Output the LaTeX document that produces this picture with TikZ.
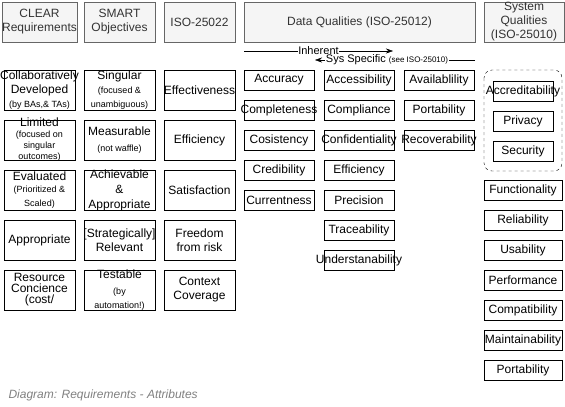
\documentclass[tikz,border=0pt]{standalone}
\usepackage{fontspec}
\setmainfont{Liberation Sans}
\usetikzlibrary{arrows.meta}
\definecolor{hdrline}{HTML}{666666}
\definecolor{hdrfill}{HTML}{F5F5F5}
\definecolor{hdrtext}{HTML}{333333}
\definecolor{captext}{HTML}{808080}
\newcommand{\sm}[1]{{\fontsize{9}{11}\selectfont #1}}

\begin{document}
\begin{tikzpicture}
[x=1pt,y=-1pt,
every node/.style={font=\fontsize{12}{14}\selectfont},
head/.style={draw=hdrline,fill=hdrfill,text=hdrtext,minimum width=71,minimum height=40,inner sep=0,align=center},
cell/.style={draw,minimum width=71,minimum height=40,inner sep=0},
dq/.style={draw,minimum width=70,minimum height=20,inner sep=0},
sq/.style={draw,minimum width=60,minimum height=20,inner sep=0},
sysq/.style={draw,minimum width=78,minimum height=20,inner sep=0},
txt/.style={inner sep=0,align=center},
flow/.style={fill=white,inner sep=.5,font=\fontsize{11}{12}\selectfont}]
\useasboundingbox (0,0) rectangle (565,407);
% headers
\node[head] (clear) at (39.5,22) {CLEAR\\Requirements};
\node[head] (smart) at (119.5,22) {SMART\\Objectives};
\node[head] (iso22) at (199.5,22) {ISO-25022};
\node[head,minimum width=231] (dataq) at (359.5,22) {Data Qualities (ISO-25012)};
\node[head,minimum width=80] (sysql) at (524,22) {System\\Qualities\\(ISO-25010)};
% inherent / sys specific
\coordinate (inhL) at (244,51);
\coordinate (inhR) at (393,51);
\coordinate (sysR) at (475,60);
\coordinate (sysL) at (315,60);
\draw[-{Stealth[length=7,width=5]}] (inhL) -- node[flow] (inh) {Inherent} (inhR);
\draw[-{Stealth[length=7,width=5]}] (sysR) -- node[pos=.55,flow] (sysspec) {Sys Specific {\fontsize{8}{9}\selectfont(see ISO-25010)}} (sysL);
% CLEAR
\node[cell,label={[txt]center:{Collaboratively\\Developed\\\sm{(by BAs,\& TAs)}}}] (c1) at (39.5,90) {};
\node[cell,label={[txt]center:{Limited\\[-3pt]\sm{(focused on}\\[-3pt]\sm{singular}\\[-3pt]\sm{outcomes)}}}] (c2) at (39.5,140) {};
\node[cell,label={[txt]center:{Evaluated\\[-2pt]\sm{(Prioritized \&}\\\sm{Scaled)}}}] (c3) at (39.5,190) {};
\node[cell,label={[txt]center:Appropriate}] (c4) at (39.5,240) {};
\node[cell,label={[txt]center:{Resource\\[-3pt]Concience\\[-3pt](cost/}}] (c5) at (39.5,290) {};
% SMART
\node[cell,label={[txt]center:{Singular\\\sm{(focused \&}\\\sm{unambiguous)}}}] (s1) at (119.5,90) {};
\node[cell,label={[txt]center:{Measurable\\[2pt]\sm{(not waffle)}}}] (s2) at (119.5,140) {};
\node[cell,label={[txt]center:{Achievable\\[1pt]\&\\[1pt]Appropriate}}] (s3) at (119.5,190) {};
\node[cell,label={[txt]center:{[Strategically]\\Relevant}}] (s4) at (119.5,240) {};
\node[cell,label={[txt]center:{Testable\\[2pt]\sm{(by}\\\sm{automation!)}}}] (s5) at (119.5,290) {};
% ISO-25022
\foreach \n/\t [count=\i from 0] in {i1/Effectiveness,i2/Efficiency,i3/Satisfaction,i4/{Freedom\\from risk},i5/{Context\\Coverage}}
\node[cell,label={[txt]center:{\t}}] (\n) at (199.5,90+50*\i) {};
% data qualities
\foreach \n/\t [count=\i from 0] in {accu/Accuracy,comp/Completeness,cons/Cosistency,cred/Credibility,curr/Currentness}
\node[dq,label={[txt]center:\t}] (\n) at (279,80+30*\i) {};
\foreach \n/\t [count=\i from 0] in {acce/Accessibility,compl/Compliance,conf/Confidentiality,effi/Efficiency,prec/Precision,trac/Traceability,unde/Understanability}
\node[dq,label={[txt]center:\t}] (\n) at (359,80+30*\i) {};
\foreach \n/\t [count=\i from 0] in {avai/Availablility,port/Portability,reco/Recoverability}
\node[dq,label={[txt]center:\t}] (\n) at (439,80+30*\i) {};
% system qualities
\draw[dashed,rounded corners=8] (484,70) rectangle (562,171);
\foreach \n/\t [count=\i from 0] in {accr/Accreditability,priv/Privacy,secu/Security}
\node[sq,label={[txt]center:\t}] (\n) at (523,91+30*\i) {};
\foreach \n/\t [count=\i from 0] in {func/Functionality,reli/Reliability,usab/Usability,perf/Performance,compa/Compatibility,main/Maintainability,sport/Portability}
\node[sysq,label={[txt]center:\t}] (\n) at (523,190+30*\i) {};
\node[anchor=west,text=captext,font=\fontsize{12}{14}\selectfont\itshape] (cap) at (5,395) {Diagram: Requirements - Attributes};
\end{tikzpicture}
\end{document}
